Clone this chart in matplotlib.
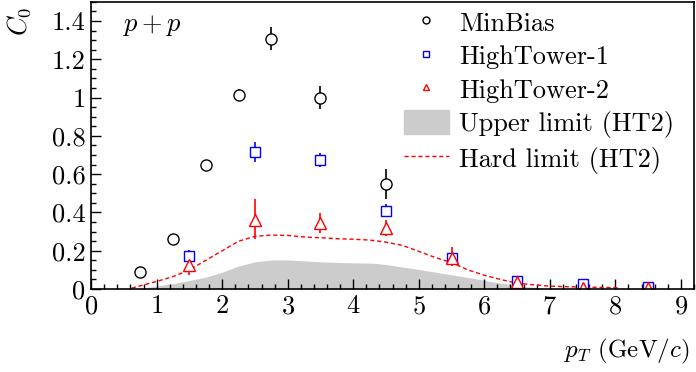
import matplotlib
matplotlib.use('Agg')
import matplotlib.pyplot as plt
import numpy as np
from matplotlib.lines import Line2D
from matplotlib.patches import Patch
from matplotlib.ticker import MultipleLocator

plt.rcParams['font.family'] = 'serif'
plt.rcParams['font.serif'] = ['cmr10']
plt.rcParams['mathtext.fontset'] = 'cm'
plt.rcParams['axes.unicode_minus'] = False
plt.rcParams['axes.formatter.use_mathtext'] = True

# MinBias
mb_x = [0.75, 1.25, 1.75, 2.25, 2.75, 3.5, 4.5]
mb_y = [0.089, 0.26, 0.65, 1.015, 1.307, 1.0, 0.55]
mb_err = [0.005, 0.008, 0.01, 0.028, 0.06, 0.058, 0.078]

# HighTower-1
ht1_x = [1.5, 2.5, 3.5, 4.5, 5.5, 6.5, 7.5, 8.5]
ht1_y = [0.17, 0.717, 0.674, 0.41, 0.16, 0.043, 0.028, 0.012]
ht1_err = [0.032, 0.052, 0.034, 0.036, 0.02, 0.008, 0.006, 0.004]

# HighTower-2
ht2_x = [1.5, 2.5, 3.5, 4.5, 5.5, 6.5, 7.5, 8.5]
ht2_y = [0.125, 0.36, 0.345, 0.32, 0.16, 0.035, 0.005, 0.005]
ht2_lo = [0.05, 0.1, 0.05, 0.045, 0.04, 0.01, 0.005, 0.004]
ht2_hi = [0.035, 0.11, 0.05, 0.04, 0.06, 0.01, 0.005, 0.004]

# upper limit (HT2)
ul_x = [0.6, 0.8, 1.0, 1.25, 1.5, 1.75, 2.0, 2.25, 2.5, 2.75, 3.0, 3.25,
        3.5, 3.85, 4.3, 4.5, 4.85, 5.1, 5.4, 5.65, 5.9, 6.15, 6.4, 6.55,
        6.85, 6.95]
ul_y = [0.0, 0.006, 0.016, 0.028, 0.045, 0.062, 0.088, 0.12, 0.142, 0.152,
        0.152, 0.147, 0.142, 0.138, 0.135, 0.128, 0.11, 0.097, 0.08, 0.066,
        0.052, 0.036, 0.024, 0.014, 0.007, 0.0]

# hard limit (HT2)
hl_x = [0.62, 1.0, 1.25, 1.5, 1.75, 2.0, 2.25, 2.5, 2.75, 3.0, 3.25, 3.5,
        3.75, 4.0, 4.25, 4.5, 4.75, 5.0, 5.25, 5.5, 5.75, 6.0, 6.25, 6.5,
        7.0, 7.5, 8.05]
hl_y = [0.005, 0.04, 0.065, 0.1, 0.15, 0.2, 0.25, 0.275, 0.282, 0.28, 0.272,
        0.268, 0.263, 0.26, 0.256, 0.245, 0.228, 0.197, 0.165, 0.138, 0.1,
        0.072, 0.05, 0.03, 0.015, 0.01, 0.007]

fig = plt.figure(figsize=(6.96, 3.72), dpi=100)
ax = fig.add_axes([0.131, 0.223, 0.866, 0.772])

ax.fill_between(ul_x, 0, ul_y, color='#cccccc', linewidth=0)
ax.plot(hl_x, hl_y, color='red', linestyle=(0, (3, 2)), linewidth=1.0)

ax.errorbar(mb_x, mb_y, yerr=mb_err, fmt='o', color='black', mfc='white',
            ms=8, mew=1.0, elinewidth=1.2, capsize=0)
ax.errorbar(ht1_x, ht1_y, yerr=ht1_err, fmt='s', color='blue', mfc='white',
            ms=6.5, mew=1.0, elinewidth=1.2, capsize=0)
ax.errorbar(ht2_x, ht2_y, yerr=[ht2_lo, ht2_hi], fmt='^', color='red',
            mfc='white', ms=9, mew=1.0, elinewidth=1.2, capsize=0)

ax.set_xlim(0, 9.2)
ax.set_ylim(0, 1.5)
ax.xaxis.set_major_locator(MultipleLocator(1))
ax.xaxis.set_minor_locator(MultipleLocator(0.2))
ax.yaxis.set_minor_locator(MultipleLocator(0.05))
ax.set_yticks([0, 0.2, 0.4, 0.6, 0.8, 1.0, 1.2, 1.4])
ax.set_yticklabels(['0', '0.2', '0.4', '0.6', '0.8', '1', '1.2', '1.4'])
ax.tick_params(which='both', direction='in', top=False, right=False,
               labelsize=19)
ax.tick_params(which='major', length=7, width=1)
ax.tick_params(which='minor', length=3.5, width=1)
ax.tick_params(axis='x', pad=4)
ax.tick_params(axis='y', pad=4)
for s in ax.spines.values():
    s.set_linewidth(1.2)

# 标注
ax.text(0.053, 0.9, r'$p+p$', transform=ax.transAxes, fontsize=19,
        va='baseline')
fig.text(0.007, 0.981, r'$C_0$', rotation=90, fontsize=19, ha='left',
         va='top')
fig.text(0.991, 0.04, r'$p_T$ (GeV/$c$)', fontsize=18, ha='right',
         va='baseline')

handles = [
    Line2D([], [], marker='o', ls='none', color='black', mfc='white', ms=5),
    Line2D([], [], marker='s', ls='none', color='blue', mfc='white', ms=5),
    Line2D([], [], marker='^', ls='none', color='red', mfc='white', ms=5),
    Patch(color='#cccccc'),
    Line2D([], [], color='red', ls=(0, (3, 2)), lw=1.0),
]
labels = ['MinBias', 'HighTower-1', 'HighTower-2', 'Upper limit (HT2)',
          'Hard limit (HT2)']
ax.legend(handles, labels, loc='upper left', frameon=False, fontsize=19,
          handlelength=1.7, handleheight=1.0, handletextpad=0.4,
          labelspacing=0.29, borderpad=0, borderaxespad=0,
          bbox_to_anchor=(0.519, 0.972))

fig.savefig('out.png', dpi=100)
